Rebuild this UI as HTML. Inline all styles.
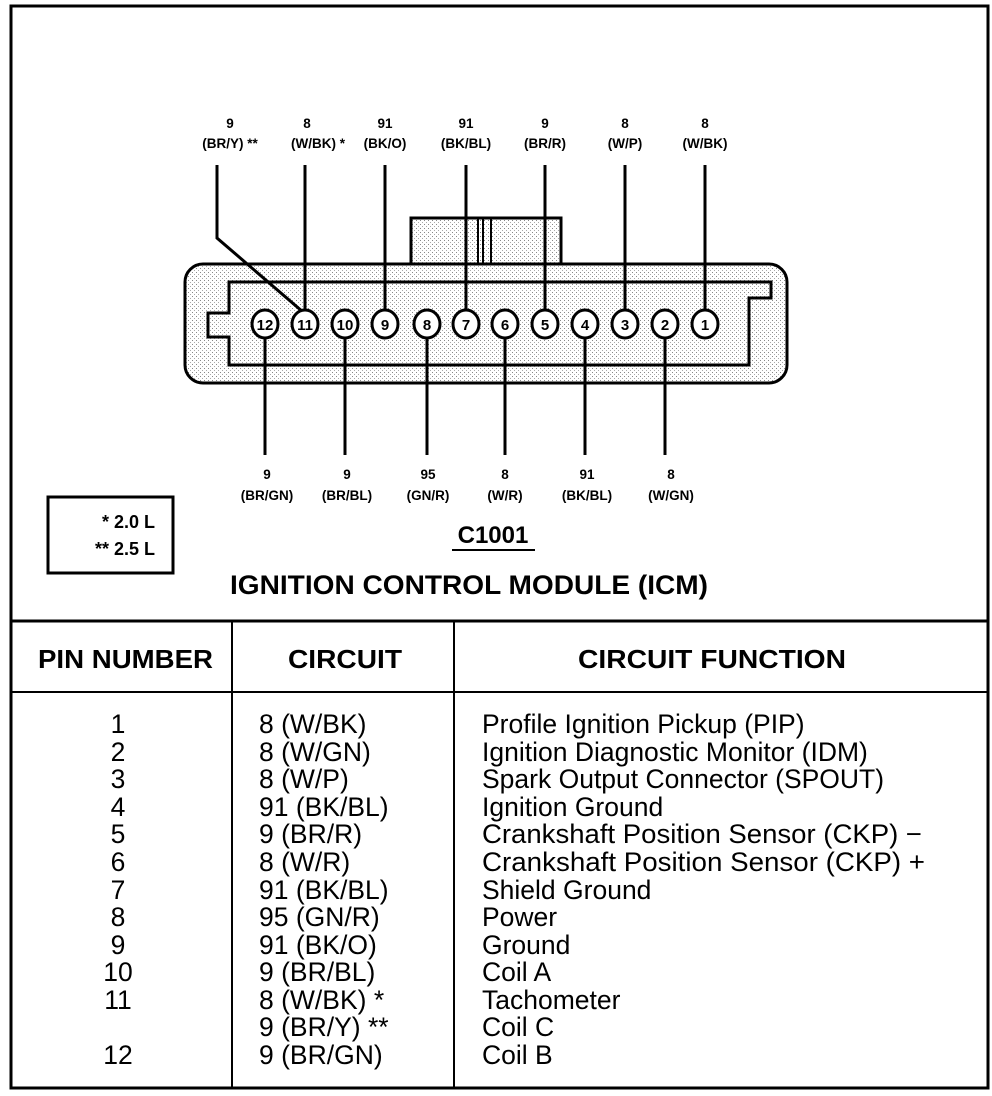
<!DOCTYPE html>
<html><head><meta charset="utf-8"><style>
html,body{margin:0;padding:0;background:#fff}
svg{display:block}
text{font-family:"Liberation Sans",sans-serif;fill:#000}
.s{font-size:13.5px;font-weight:bold;text-anchor:middle}
.p{font-size:15px;font-weight:bold;text-anchor:middle}
.t{font-size:26.5px}
</style></head><body>
<svg width="992" height="1096" viewBox="0 0 992 1096" xmlns="http://www.w3.org/2000/svg">
<defs>
<pattern id="dots" width="4" height="4" patternUnits="userSpaceOnUse">
<rect width="4" height="4" fill="#fff"/><rect x="0" y="0" width="1" height="1" fill="#888"/><rect x="2" y="2" width="1" height="1" fill="#aaa"/>
</pattern>
</defs>
<rect x="11" y="6" width="977" height="1082" fill="none" stroke="#000" stroke-width="3"/>
<line x1="11" y1="621" x2="988" y2="621" stroke="#000" stroke-width="3"/>
<line x1="11" y1="692" x2="988" y2="692" stroke="#000" stroke-width="2"/>
<line x1="232" y1="621" x2="232" y2="1088" stroke="#000" stroke-width="2"/>
<line x1="454" y1="621" x2="454" y2="1088" stroke="#000" stroke-width="2"/>

<rect x="411" y="218" width="150" height="46" fill="url(#dots)" stroke="#000" stroke-width="3"/>
<line x1="478" y1="218" x2="478" y2="264" stroke="#000" stroke-width="2"/>
<line x1="483" y1="218" x2="483" y2="264" stroke="#000" stroke-width="2"/>
<line x1="491" y1="218" x2="491" y2="264" stroke="#000" stroke-width="2"/>
<rect x="185" y="264" width="602" height="119" rx="18" fill="url(#dots)" stroke="#000" stroke-width="3"/>
<path d="M229,282 H771 V298 H749 V365 H229 V337 H208 V313 H229 Z" fill="url(#dots)" stroke="#000" stroke-width="3"/>

<g stroke="#000" stroke-width="3" fill="none">
<path d="M217,165 V238 L303,312"/>
<line x1="305" y1="165" x2="305" y2="310"/>
<line x1="385" y1="165" x2="385" y2="310"/>
<line x1="466" y1="165" x2="466" y2="310"/>
<line x1="545" y1="165" x2="545" y2="310"/>
<line x1="625" y1="165" x2="625" y2="310"/>
<line x1="705" y1="165" x2="705" y2="310"/>
<line x1="265" y1="338" x2="265" y2="455"/>
<line x1="345" y1="338" x2="345" y2="455"/>
<line x1="427" y1="338" x2="427" y2="455"/>
<line x1="505" y1="338" x2="505" y2="455"/>
<line x1="585" y1="338" x2="585" y2="455"/>
<line x1="665" y1="338" x2="665" y2="455"/>
</g>
<g fill="#fff" stroke="#000" stroke-width="3">
<ellipse cx="265" cy="324" rx="13" ry="14"/><ellipse cx="305" cy="324" rx="13" ry="14"/>
<ellipse cx="345" cy="324" rx="13" ry="14"/><ellipse cx="385" cy="324" rx="13" ry="14"/>
<ellipse cx="427" cy="324" rx="13" ry="14"/><ellipse cx="466" cy="324" rx="13" ry="14"/>
<ellipse cx="505" cy="324" rx="13" ry="14"/><ellipse cx="545" cy="324" rx="13" ry="14"/>
<ellipse cx="585" cy="324" rx="13" ry="14"/><ellipse cx="625" cy="324" rx="13" ry="14"/>
<ellipse cx="665" cy="324" rx="13" ry="14"/><ellipse cx="705" cy="324" rx="13" ry="14"/>
</g>
<text class="p" x="265" y="330">12</text><text class="p" x="305" y="330">11</text>
<text class="p" x="345" y="330">10</text><text class="p" x="385" y="330">9</text>
<text class="p" x="427" y="330">8</text><text class="p" x="466" y="330">7</text>
<text class="p" x="505" y="330">6</text><text class="p" x="545" y="330">5</text>
<text class="p" x="585" y="330">4</text><text class="p" x="625" y="330">3</text>
<text class="p" x="665" y="330">2</text><text class="p" x="705" y="330">1</text>

<text class="s" x="230" y="128">9</text><text class="s" x="230" y="148">(BR/Y) **</text>
<text class="s" x="307" y="128">8</text><text class="s" x="318" y="148">(W/BK) *</text>
<text class="s" x="385" y="128">91</text><text class="s" x="385" y="148">(BK/O)</text>
<text class="s" x="466" y="128">91</text><text class="s" x="466" y="148">(BK/BL)</text>
<text class="s" x="545" y="128">9</text><text class="s" x="545" y="148">(BR/R)</text>
<text class="s" x="625" y="128">8</text><text class="s" x="625" y="148">(W/P)</text>
<text class="s" x="705" y="128">8</text><text class="s" x="705" y="148">(W/BK)</text>

<text class="s" x="267" y="479">9</text><text class="s" x="267" y="500">(BR/GN)</text>
<text class="s" x="347" y="479">9</text><text class="s" x="347" y="500">(BR/BL)</text>
<text class="s" x="428" y="479">95</text><text class="s" x="428" y="500">(GN/R)</text>
<text class="s" x="505" y="479">8</text><text class="s" x="505" y="500">(W/R)</text>
<text class="s" x="587" y="479">91</text><text class="s" x="587" y="500">(BK/BL)</text>
<text class="s" x="671" y="479">8</text><text class="s" x="671" y="500">(W/GN)</text>

<rect x="48" y="497" width="125" height="76" fill="none" stroke="#000" stroke-width="3"/>
<text x="155" y="528" style="font-size:18px;font-weight:bold;text-anchor:end">* 2.0 L</text>
<text x="155" y="555" style="font-size:18px;font-weight:bold;text-anchor:end">** 2.5 L</text>

<text x="493" y="543" style="font-size:24px;font-weight:bold;text-anchor:middle">C1001</text>
<line x1="452" y1="550" x2="535" y2="550" stroke="#000" stroke-width="2"/>
<text x="230" y="594" textLength="478" lengthAdjust="spacingAndGlyphs" style="font-size:27px;font-weight:bold">IGNITION CONTROL MODULE (ICM)</text>

<text x="38" y="668" textLength="175" lengthAdjust="spacingAndGlyphs" style="font-size:26px;font-weight:bold">PIN NUMBER</text>
<text x="288" y="668" textLength="114" lengthAdjust="spacingAndGlyphs" style="font-size:26px;font-weight:bold">CIRCUIT</text>
<text x="578" y="668" textLength="268" lengthAdjust="spacingAndGlyphs" style="font-size:26px;font-weight:bold">CIRCUIT FUNCTION</text>

<text class="t" x="118" y="733" text-anchor="middle">1</text>
<text class="t" x="118" y="761" text-anchor="middle">2</text>
<text class="t" x="118" y="788" text-anchor="middle">3</text>
<text class="t" x="118" y="816" text-anchor="middle">4</text>
<text class="t" x="118" y="843" text-anchor="middle">5</text>
<text class="t" x="118" y="871" text-anchor="middle">6</text>
<text class="t" x="118" y="899" text-anchor="middle">7</text>
<text class="t" x="118" y="926" text-anchor="middle">8</text>
<text class="t" x="118" y="954" text-anchor="middle">9</text>
<text class="t" x="118" y="981" text-anchor="middle">10</text>
<text class="t" x="118" y="1009" text-anchor="middle">11</text>
<text class="t" x="118" y="1064" text-anchor="middle">12</text>

<text class="t" x="259" y="733">8 (W/BK)</text>
<text class="t" x="259" y="761">8 (W/GN)</text>
<text class="t" x="259" y="788">8 (W/P)</text>
<text class="t" x="259" y="816">91 (BK/BL)</text>
<text class="t" x="259" y="843">9 (BR/R)</text>
<text class="t" x="259" y="871">8 (W/R)</text>
<text class="t" x="259" y="899">91 (BK/BL)</text>
<text class="t" x="259" y="926">95 (GN/R)</text>
<text class="t" x="259" y="954">91 (BK/O)</text>
<text class="t" x="259" y="981">9 (BR/BL)</text>
<text class="t" x="259" y="1009">8 (W/BK) *</text>
<text class="t" x="259" y="1036">9 (BR/Y) **</text>
<text class="t" x="259" y="1064">9 (BR/GN)</text>

<text class="t" x="482" y="733">Profile Ignition Pickup (PIP)</text>
<text class="t" x="482" y="761">Ignition Diagnostic Monitor (IDM)</text>
<text class="t" x="482" y="788">Spark Output Connector (SPOUT)</text>
<text class="t" x="482" y="816">Ignition Ground</text>
<text class="t" x="482" y="843" textLength="440" lengthAdjust="spacingAndGlyphs">Crankshaft Position Sensor (CKP) −</text>
<text class="t" x="482" y="871" textLength="443" lengthAdjust="spacingAndGlyphs">Crankshaft Position Sensor (CKP) +</text>
<text class="t" x="482" y="899">Shield Ground</text>
<text class="t" x="482" y="926">Power</text>
<text class="t" x="482" y="954">Ground</text>
<text class="t" x="482" y="981">Coil A</text>
<text class="t" x="482" y="1009">Tachometer</text>
<text class="t" x="482" y="1036">Coil C</text>
<text class="t" x="482" y="1064">Coil B</text>
</svg>
</body></html>
